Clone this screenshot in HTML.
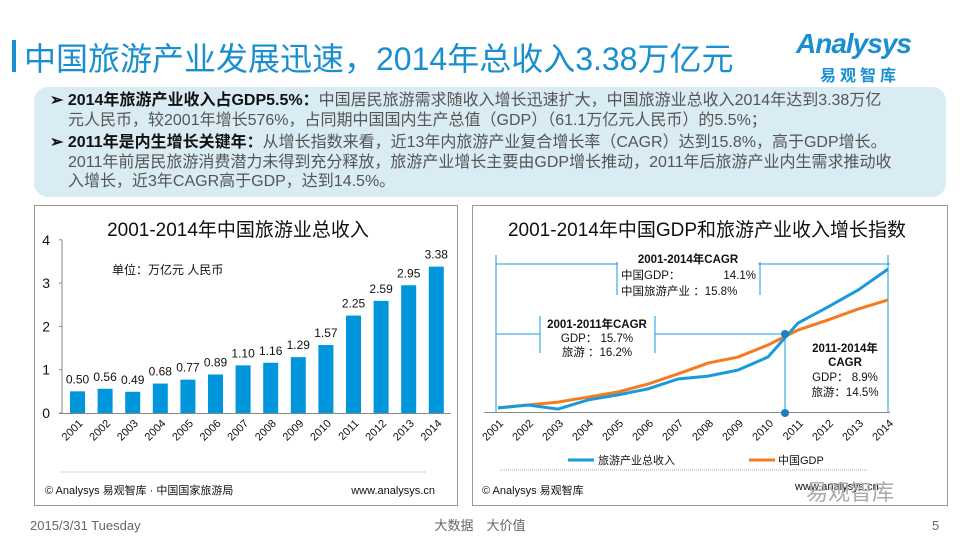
<!DOCTYPE html>
<html><head><meta charset="utf-8"><style>
body{margin:0;width:960px;height:540px;background:#fff;overflow:hidden;position:relative;font-family:"Liberation Sans","Noto Sans CJK SC",sans-serif}
.abs{position:absolute}
</style></head><body>
<div class="abs" style="left:12px;top:40px;width:4px;height:32px;background:#1a8fd0"></div>
<div class="abs" style="left:24px;top:34px;font-size:32px;color:#1a8fd0;white-space:nowrap">中国旅游产业发展迅速，2014年总收入3.38万亿元</div>
<div class="abs" style="left:796px;top:28px;color:#1a8fd0;font-size:28px;font-style:italic;font-weight:bold;letter-spacing:-1px">Analysys</div>
<div class="abs" style="left:820px;top:62px;color:#1a8fd0;font-size:16px;font-weight:bold;letter-spacing:4px">易观智库</div>
<div class="abs" style="left:34px;top:87px;width:912px;height:110px;background:#d9ebf3;border-radius:14px"></div>
<div class="abs" style="left:50px;top:91px;width:890px;font-size:16px;line-height:19.5px;color:#555;white-space:nowrap;letter-spacing:0px">
<div><b style="color:#111">➢ 2014年旅游产业收入占GDP5.5%：</b>中国居民旅游需求随收入增长迅速扩大，中国旅游业总收入2014年达到3.38万亿<br><span style="padding-left:18px">元人民币，较2001年增长576%，占同期中国国内生产总值（GDP）（61.1万亿元人民币）的5.5%；</span></div>
<div style="margin-top:3px"><b style="color:#111">➢ 2011年是内生增长关键年：</b>从增长指数来看，近13年内旅游产业复合增长率（CAGR）达到15.8%，高于GDP增长。<br><span style="padding-left:18px">2011年前居民旅游消费潜力未得到充分释放，旅游产业增长主要由GDP增长推动，2011年后旅游产业内生需求推动收</span><br><span style="padding-left:18px">入增长，近3年CAGR高于GDP，达到14.5%。</span></div>
</div>
<svg class="abs" style="left:0;top:0" width="960" height="540">
<rect x="34.5" y="205.5" width="423" height="300" fill="none" stroke="#999"/>
<rect x="472.5" y="205.5" width="475" height="300" fill="none" stroke="#999"/>
<text x="238" y="236" font-size="19" text-anchor="middle" fill="#111">2001-2014年中国旅游业总收入</text>
<text x="112" y="274" font-size="12" fill="#111">单位：万亿元 人民币</text>
<g id="left"></g>
<text x="707" y="236" font-size="19" text-anchor="middle" fill="#111">2001-2014年中国GDP和旅游产业收入增长指数</text>
<g id="right"></g>
<line x1="60" y1="472" x2="425" y2="472" stroke="#aaa" stroke-dasharray="1,1"/>
<line x1="500" y1="470" x2="868" y2="470" stroke="#aaa" stroke-dasharray="1,1"/>
<text x="45" y="494" font-size="11" fill="#111">© Analysys 易观智库 · 中国国家旅游局</text>
<text x="435" y="494" font-size="11" fill="#111" text-anchor="end">www.analysys.cn</text>
<text x="482" y="494" font-size="11" fill="#111">© Analysys 易观智库</text>
<text x="795" y="490" font-size="11" fill="#111">www.analysys.cn</text>
<text x="806" y="500" font-size="22" fill="#aaa">易观智库</text>
<text x="30" y="530" font-size="13" fill="#666">2015/3/31 Tuesday</text>
<text x="480" y="530" font-size="13" fill="#666" text-anchor="middle">大数据　大价值</text>
<text x="932" y="530" font-size="13" fill="#666">5</text>
</svg>
<script>
const years=["2001","2002","2003","2004","2005","2006","2007","2008","2009","2010","2011","2012","2013","2014"];
const revenue=[0.50,0.56,0.49,0.68,0.77,0.89,1.10,1.16,1.29,1.57,2.25,2.59,2.95,3.38];
const yTicks=[0,1,2,3,4];
const tourismIndex=[1.0,1.12,0.95,1.33,1.54,1.79,2.2,2.32,2.57,3.11,4.52,5.19,5.89,6.76];
const gdpIndex=[1.0,1.12,1.24,1.45,1.66,1.99,2.41,2.86,3.11,3.61,4.23,4.65,5.1,5.48];
const NS='http://www.w3.org/2000/svg';
function mk(p,t,a,txt){const e=document.createElementNS(NS,t);for(const k in a)e.setAttribute(k,a[k]);if(txt!==undefined)e.textContent=txt;p.appendChild(e);return e;}
// left
const L=document.getElementById('left');
const bx=i=>77.5+i*27.6, by=v=>413-v*43.3;
mk(L,'line',{x1:62,y1:240,x2:62,y2:413,stroke:'#888'});
mk(L,'line',{x1:59,y1:413.5,x2:451,y2:413.5,stroke:'#888'});
yTicks.forEach(t=>{mk(L,'line',{x1:59,y1:by(t),x2:62,y2:by(t),stroke:'#888'});
const tl=mk(L,'text',{x:50,y:by(t)+5,'font-size':14,'text-anchor':'end',fill:'#111'},t);

});
revenue.forEach((v,i)=>{const r=mk(L,'rect',{x:bx(i)-7.5,y:by(v),width:15,height:413-by(v),fill:'#0096dc'});


const t=mk(L,'text',{x:bx(i),y:by(v)-8,'font-size':12,'text-anchor':'middle',fill:'#111'},v.toFixed(2));


const x=mk(L,'text',{x:bx(i)+6,y:424,'font-size':11,'text-anchor':'end',fill:'#111',transform:`rotate(-45 ${bx(i)+6} 424)`},years[i]);

});
// right
const R=document.getElementById('right');
const lx=i=>498+i*30, ly=v=>432-v*24.1;
mk(R,'line',{x1:484,y1:412.5,x2:890,y2:412.5,stroke:'#888'});
const blue='#1a9ad9';
[[496,264,890,264],[496,255,496,412],[888,255,888,412],[496,334,540,334],[655,334,785,334],[785,334,785,412],[617,262,617,295],[760,262,760,295],[540,316,540,353],[655,316,655,353]].forEach(a=>mk(R,'line',{x1:a[0],y1:a[1],x2:a[2],y2:a[3],stroke:blue,'stroke-width':1}));
mk(R,'rect',{x:618,y:252,width:140,height:48,fill:'#fff'});
mk(R,'rect',{x:541,y:316,width:113,height:40,fill:'#fff'});
function line(vals,col,name){const p=mk(R,'polyline',{points:vals.map((v,i)=>lx(i)+','+ly(v)).join(' '),fill:'none',stroke:col,'stroke-width':3});

}
line(gdpIndex,'#f47b20','gdp-line');
line(tourismIndex,blue,'tourism-line');
mk(R,'circle',{cx:785,cy:334,r:4,fill:'#1a7fc0'});
mk(R,'circle',{cx:785,cy:413,r:4,fill:'#1a7fc0'});
years.forEach((y,i)=>{const x=mk(R,'text',{x:lx(i)+6,y:424,'font-size':11,'text-anchor':'end',fill:'#111',transform:`rotate(-45 ${lx(i)+6} 424)`},y);

});
const anns=[[688,263,'2001-2014年CAGR',1,'middle'],[621,279,'中国GDP：',0,'start'],[756,279,'14.1%',0,'end'],[621,295,'中国旅游产业 ：15.8%',0,'start'],[597,328,'2001-2011年CAGR',1,'middle'],[597,342,'GDP： 15.7%',0,'middle'],[597,356,'旅游 ：16.2%',0,'middle'],[845,352,'2011-2014年',1,'middle'],[845,366,'CAGR',1,'middle'],[845,381,'GDP： 8.9%',0,'middle'],[845,396,'旅游：14.5%',0,'middle']];
anns.forEach(a=>{const t=mk(R,'text',{x:a[0],y:a[1],'font-size':11.5,'text-anchor':a[4],fill:'#111','font-weight':a[3]?'bold':'normal'},a[2]);

});
mk(R,'line',{x1:568,y1:460,x2:594,y2:460,stroke:blue,'stroke-width':3});
const l1=mk(R,'text',{x:598,y:464,'font-size':11,fill:'#111'},'旅游产业总收入');


mk(R,'line',{x1:749,y1:460,x2:775,y2:460,stroke:'#f47b20','stroke-width':3});
const l2=mk(R,'text',{x:778,y:464,'font-size':11,fill:'#111'},'中国GDP');


</script>
</body></html>
